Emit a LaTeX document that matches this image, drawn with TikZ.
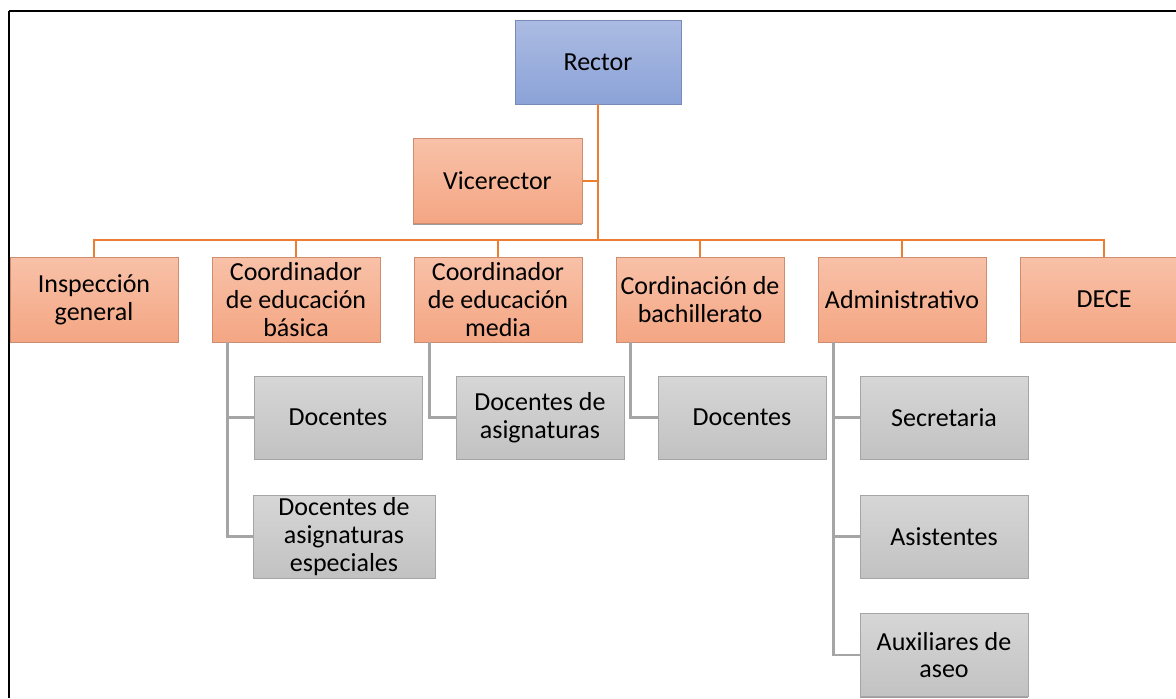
\documentclass[tikz,border=0pt]{standalone}
\usepackage{fontspec}
\setmainfont{Carlito}
\usetikzlibrary{shadows}
\definecolor{blueT}{HTML}{ABBBE2}
\definecolor{blueB}{HTML}{8CA3D8}
\definecolor{oraT}{HTML}{F8C1A8}
\definecolor{oraB}{HTML}{F4A683}
\definecolor{grT}{HTML}{D6D6D6}
\definecolor{grB}{HTML}{C2C2C2}
\definecolor{oraL}{HTML}{ED7D31}
\definecolor{grL}{HTML}{A5A5A5}
\tikzset{
  boxbase/.style={rectangle, align=center, inner sep=1pt,
    font=\fontsize{13}{13.8}\selectfont, text=black, line width=0.4pt,
    drop shadow={shadow xshift=0pt, shadow yshift=-0.7pt, opacity=0.55, fill=black!70}},
  bluebox/.style={boxbase, top color=blueT, bottom color=blueB, draw=blueB!85!black,
    minimum width=83pt, minimum height=42pt},
  orabox/.style={boxbase, top color=oraT, bottom color=oraB, draw=oraB!85!black,
    minimum width=84pt, minimum height=42.5pt},
  graybox/.style={boxbase, top color=grT, bottom color=grB, draw=grB!85!black,
    minimum width=84pt, minimum height=41.5pt},
  oline/.style={draw=oraL, line width=1.4pt},
  gline/.style={draw=grL, line width=1.4pt},
  frameline/.style={draw=black, line width=1pt}
}
\begin{document}
\begin{tikzpicture}[x=0.5pt,y=-0.5pt]
\useasboundingbox (0,0) rectangle (1176,698);
\fill[white] (0,0) rectangle (1176,698);
% frame
\draw[frameline] (9,11) -- (1176,11);
\draw[frameline] (9,11) -- (9,698);

% nodes
\node[bluebox] (rector) at (598,62) {Rector};
\node[orabox, minimum width=84.5pt] (vice) at (497.5,181) {Vicerector};
\node[orabox] (insp) at (94,299.5) {Inspección\\general};
\node[orabox] (basica) at (296,299.5) {Coordinador\\de educación\\básica};
\node[orabox] (media) at (498,299.5) {Coordinador\\de educación\\media};
\node[orabox] (bach) at (700,299.5) {Cordinación de\\bachillerato};
\node[orabox] (admin) at (902,299.5) {Administrativo};
\node[orabox] (dece) at (1104,299.5) {DECE};

\node[graybox] (doc1) at (338,417.5) {Docentes};
\node[graybox, minimum width=91pt] (esp) at (344,536.5) {Docentes de\\asignaturas\\especiales};
\node[graybox] (docasig) at (540,417.5) {Docentes de\\asignaturas};
\node[graybox] (doc3) at (742,417.5) {Docentes};
\node[graybox] (secr) at (944,417.5) {Secretaria};
\node[graybox] (asist) at (944,536.5) {Asistentes};
\node[graybox] (aux) at (944,655) {Auxiliares de\\aseo};

% orange connectors
\coordinate (bus) at (598,240);
\draw[oline] (rector.south) -- (bus);
\draw[oline] (vice.east) -- (vice.east -| bus);
\draw[oline] (insp.north) -- (insp.north |- bus) -- (dece.north |- bus) -- (dece.north);
\foreach \n in {basica,media,bach,admin}
  \draw[oline] (\n.north) -- (\n.north |- bus);

% gray connectors
\draw[gline] ([xshift=8pt]basica.south west) |- (esp.west);
\draw[gline] ([xshift=8pt]basica.south west) |- (doc1.west);
\draw[gline] ([xshift=8pt]media.south west) |- (docasig.west);
\draw[gline] ([xshift=7.5pt]bach.south west) |- (doc3.west);
\draw[gline] ([xshift=8pt]admin.south west) |- (aux.west);
\draw[gline] ([xshift=8pt]admin.south west) |- (secr.west);
\draw[gline] ([xshift=8pt]admin.south west) |- (asist.west);
\end{tikzpicture}
\end{document}
